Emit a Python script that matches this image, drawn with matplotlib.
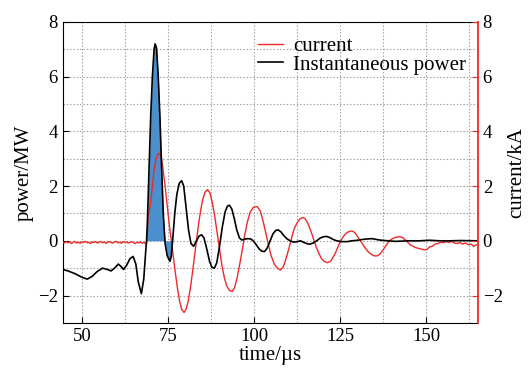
import numpy as np
import matplotlib
matplotlib.use('Agg')
import matplotlib.pyplot as plt
from matplotlib.ticker import MultipleLocator

plt.rcParams['font.family'] = ['Liberation Serif', 'DejaVu Serif']

# instantaneous power (MW) vs time (us)
t_power = [44.5, 46, 48, 50, 51.6, 53, 54.5, 56, 57.5, 58.5, 59.5, 60.6, 61.5, 62.1, 63, 64, 64.9,
           65.7, 66.4, 67.3, 68, 68.5, 68.8, 69, 69.5, 70, 70.5, 71, 71.3, 71.7, 72.2, 72.7, 73.2,
           73.7, 74.2, 74.8, 75.6, 76.0, 76.5, 77, 77.6, 78.3, 79.0, 79.6, 80.3, 81, 81.7, 82.5,
           83.3, 84.1, 84.8, 85.5, 86.3, 87.1, 87.8, 88.5, 89.2, 90, 90.8, 91.6, 92.3, 92.9, 93.6,
           94.3, 95, 95.8, 96.5, 97.3, 98.2, 99, 99.8, 100.7, 101.5, 102.3, 103.1, 103.9, 104.7,
           105.5, 106.3, 107, 107.8, 108.6, 109.5, 110.5, 111.5, 112.5, 113.5, 114.5, 115.5, 116.3,
           117.2, 118.2, 119.2, 120.2, 121.1, 122, 123, 124, 125.5, 127, 128.5, 130, 131.5, 133,
           134.3, 135.5, 137, 139, 141, 143, 145, 148, 151, 154, 157, 160, 165]
power = [-1.05, -1.1, -1.2, -1.33, -1.4, -1.3, -1.12, -1.0, -1.05, -1.1, -1.0, -0.85, -0.95, -1.05,
         -0.9, -0.65, -0.57, -0.85, -1.5, -1.93, -1.4, -0.5, 0.0, 0.5, 2.5, 4.5, 6.0, 7.0, 7.2, 7.05,
         6.0, 4.5, 2.6, 0.9, -0.1, -0.55, -0.75, -0.55, 0.2, 1.0, 1.7, 2.1, 2.2, 2.0, 1.2, 0.4, -0.1,
         -0.2, 0.0, 0.18, 0.22, 0.1, -0.3, -0.75, -0.97, -1.0, -0.8, -0.2, 0.5, 1.05, 1.27, 1.3, 1.15,
         0.8, 0.4, 0.1, 0.03, 0.06, 0.08, 0.07, 0.0, -0.15, -0.3, -0.38, -0.39, -0.25, 0.0,
         0.25, 0.38, 0.4, 0.33, 0.2, 0.08, 0.0, -0.05, -0.03, 0.0, -0.06, -0.11, -0.12,
         -0.08, 0.0, 0.1, 0.15, 0.16, 0.12, 0.05, 0.0, -0.03, -0.03, 0.0, 0.02, 0.05, 0.07,
         0.08, 0.05, 0.02, 0.0, -0.02, -0.01, 0.0, 0.0, 0.02, 0.0, 0.0, 0.01, 0.0]

# current (kA) vs time (us)
t_current = [44.5, 45, 45.5, 46, 46.5, 47, 47.5, 48, 48.5, 49, 49.5, 50, 50.5, 51, 51.5, 52, 52.5,
             53, 53.5, 54, 54.5, 55, 55.5, 56, 56.5, 57, 57.5, 58, 58.5, 59, 59.5, 60, 60.5, 61,
             61.5, 62, 62.5, 63, 63.5, 64, 64.5, 65, 65.5, 66, 66.5, 67, 67.5, 68, 68.5, 68.8,
             69.0, 69.3, 69.6, 70, 70.5, 71, 71.5, 72, 72.4, 72.8, 73.2, 73.6, 74.2, 74.8, 75.4,
             76, 76.6, 77.2, 77.8, 78.4, 79, 79.7, 80.3, 80.9, 81.5, 82.1, 82.7, 83.3, 83.9, 84.5,
             85.1, 85.8, 86.5, 87.2, 87.9, 88.6, 89.3, 90, 90.7, 91.4, 92.1, 92.9, 93.7, 94.4,
             95.1, 95.8, 96.5, 97.3, 98.1, 98.9, 99.8, 100.9, 101.8, 102.6, 103.4, 104.2, 105,
             105.9, 106.8, 107.7, 108.5, 109.3, 110.1, 110.9, 111.7, 112.5, 113.3, 114.1, 114.8,
             115.6, 116.4, 117.2, 118, 118.8, 119.6, 120.4, 121.3, 122.2, 123, 123.8, 124.6,
             125.4, 126.2, 127, 127.8, 128.5, 129.3, 130.1, 130.9, 131.7, 132.5, 133.3, 134.1,
             134.9, 135.8, 136.6, 137.4, 138.2, 139, 139.8, 140.6, 141.4, 142.2, 143, 143.8,
             144.6, 145.4, 146.2, 147, 147.8, 148.6, 149.4, 150.2, 151, 151.8, 152.6, 153.4,
             154.2, 155, 155.8, 156.6, 157.4, 158.2, 159, 159.8, 160.6, 161.4, 162.2, 163,
             163.8, 164.5, 165]
current = [-0.05, -0.08, -0.03, -0.07, -0.04, -0.1, -0.05, -0.02, -0.08, -0.05, -0.09, -0.04,
           -0.06, -0.02, -0.07, -0.05, -0.1, -0.04, -0.06, -0.03, -0.08, -0.05, -0.02, -0.07,
           -0.04, -0.09, -0.05, -0.03, -0.06, -0.08, -0.04, -0.02, -0.07, -0.05, -0.09, -0.03,
           -0.06, -0.04, -0.08, -0.05, -0.03, -0.07, -0.1, -0.05, -0.08, -0.04, -0.09, -0.06,
           -0.1, -0.1, 0.3, 1.0, 1.1, 1.4, 2.0, 2.6, 2.95, 3.15, 3.2, 3.15, 3.0, 2.6, 2.0, 1.3,
           0.6, 0.0, -0.6, -1.2, -1.75, -2.2, -2.5, -2.62, -2.5, -2.2, -1.75, -1.2, -0.6, 0.0,
           0.6, 1.1, 1.5, 1.78, 1.87, 1.75, 1.4, 0.9, 0.3, -0.3, -0.9, -1.35, -1.65, -1.82,
           -1.85, -1.7, -1.35, -0.9, -0.4, 0.2, 0.7, 1.05, 1.22, 1.25, 1.1, 0.75, 0.3, -0.15,
           -0.55, -0.85, -1.0, -1.07, -0.95, -0.65, -0.3, 0.1, 0.45, 0.65, 0.8, 0.85, 0.82,
           0.65, 0.4, 0.1, -0.2, -0.45, -0.65, -0.75, -0.8, -0.75, -0.6, -0.4, -0.15, 0.05,
           0.2, 0.3, 0.35, 0.36, 0.3, 0.15, 0.0, -0.15, -0.3, -0.42, -0.5, -0.55, -0.55, -0.48,
           -0.35, -0.2, -0.05, 0.05, 0.1, 0.14, 0.15, 0.13, 0.05, -0.05, -0.15, -0.2, -0.25,
           -0.28, -0.3, -0.33, -0.32, -0.22, -0.2, -0.12, -0.1, -0.05, -0.07, -0.03, -0.06,
           -0.02, -0.08, -0.1, -0.06, -0.12, -0.08, -0.14, -0.12, -0.2, -0.15, -0.15]

# shaded energy window (us)
fill_start, fill_end = 68.8, 76.0

red = '#ee2a2a'
fig = plt.figure(figsize=(5.28, 3.72), dpi=100)
ax = fig.add_axes([0.119, 0.132, 0.786, 0.809])

tp = np.array(t_power)
pw = np.array(power)
mask = (tp >= fill_start) & (tp <= fill_end)
ax.fill_between(tp, pw, 0, where=mask, color='#4b90cd', lw=0, zorder=2)
lc, = ax.plot(t_current, current, color=red, lw=1.0, zorder=3)
lp, = ax.plot(t_power, power, color='black', lw=1.2, zorder=4)

ax.set_xlim(44.5, 165)
ax.set_ylim(-3, 8)
ax.xaxis.set_major_locator(MultipleLocator(25))
ax.xaxis.set_minor_locator(MultipleLocator(12.5))
ax.yaxis.set_major_locator(MultipleLocator(2))
ax.yaxis.set_minor_locator(MultipleLocator(1))
ax.grid(True, which='both', color='#9a9a9a', ls=(0, (1.2, 1.8)), lw=0.8)
ax.set_axisbelow(True)
ax.spines['right'].set_visible(False)

# right axis with the same scale, for current
ax2 = ax.twinx()
ax2.set_ylim(-3, 8)
ax2.yaxis.set_major_locator(MultipleLocator(2))
ax2.spines['right'].set_color(red)
ax2.spines['right'].set_linewidth(1.3)
for s in ('left', 'top', 'bottom'):
    ax2.spines[s].set_visible(False)

fs_tick = 13.5
fs_lab = 15
ax.tick_params(which='major', direction='in', length=4, labelsize=fs_tick, top=False, right=False)
ax.tick_params(which='minor', length=0)
ax2.tick_params(which='major', direction='in', length=4, labelsize=fs_tick, colors=red,
                labelcolor='black')

ax.set_xlabel('time/µs', fontsize=fs_lab, labelpad=1)
ax.set_ylabel('power/MW', fontsize=fs_lab, labelpad=3)
ax2.set_ylabel('current/kA', fontsize=fs_lab, labelpad=3)

ax.legend([lc, lp], ['current', 'Instantaneous power'], loc='upper right', frameon=False,
          fontsize=fs_lab, handlelength=1.2, handletextpad=0.5, labelspacing=-0.05,
          borderaxespad=0.0, borderpad=0.55, bbox_to_anchor=(1.0, 0.99))

fig.savefig('out.png', dpi=100)
